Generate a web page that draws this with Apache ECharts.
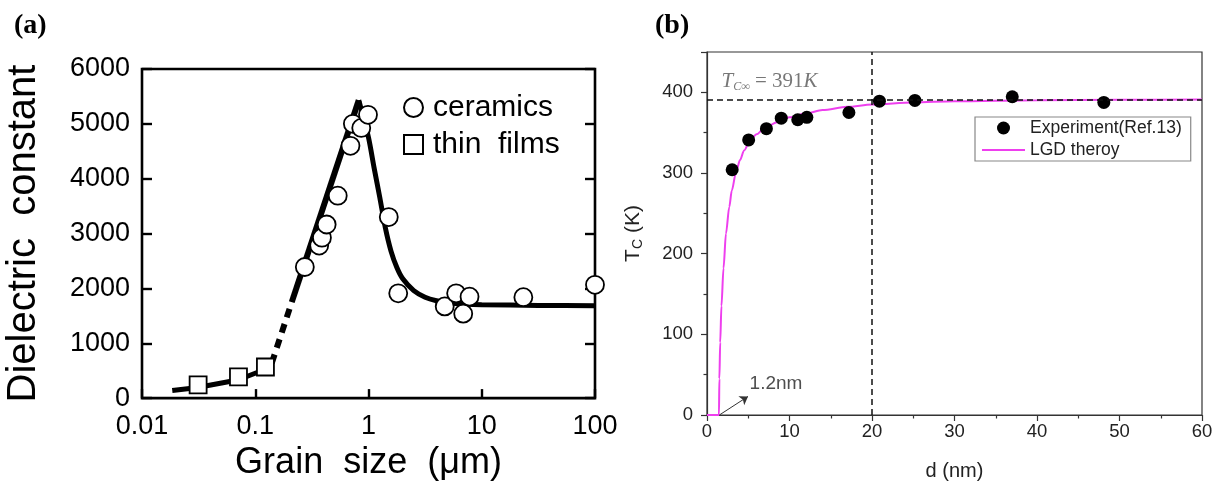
<!DOCTYPE html>
<html><head><meta charset="utf-8">
<script src="https://cdn.jsdelivr.net/npm/echarts@6/dist/echarts.min.js"></script>
<style>html,body{margin:0;padding:0;background:#fff}#c{width:1216px;height:486px}</style>
</head><body><div id="c"></div>
<script>
// ---------- Panel (a) data: grain size (µm) vs dielectric constant ----------
const ceramics = [[0.274,2390],[0.367,2780],[0.388,2925],[0.427,3165],[0.535,3690],[0.693,4600],[0.728,5000],[0.863,4925],[0.99,5165],[1.51,3300],[1.83,1910],[4.71,1672],[5.94,1910],[6.86,1540],[7.8,1850],[23.3,1840],[100,2066]];
const thinFilms = [[0.0313,240],[0.0711,388],[0.123,567]];
const fitFilms = [[0.0185,140],[0.03,190],[0.07,330],[0.125,530]];
const fitDashed = [[0.14,640],[0.21,1750]];
const fitRise = [[0.21,1750],[0.82,5430]];
const fitFall = [[0.82,5430],[1.0,4750],[1.12,4200],[1.26,3650],[1.41,3100],[1.58,2680],[1.78,2380],[2.0,2180],[2.51,1960],[3.16,1840],[3.98,1775],[5.01,1740],[7.08,1715],[10,1703],[31.6,1690],[100,1684]];
const xTicksA = ['0.01','0.1','1','10','100'];
const yTicksA = ['0','1000','2000','3000','4000','5000','6000'];

// ---------- Panel (b) data: d (nm) vs Tc (K) ----------
const experiment = [[3.05,304],[5.05,341],[7.2,355],[9.0,368],[11.0,366],[12.1,369],[17.2,375],[20.9,389],[25.2,390],[37.0,394.5],[48.1,387.5]];
const lgdTheory = [[0,0],[1.45,0],[1.5,45],[1.6,90],[1.75,135],[2.0,182],[2.3,225],[2.7,258],[3.0,278],[3.5,300],[4.0,316],[4.5,328],[5.2,340],[6.0,348],[7.0,356],[8.5,363],[10,369],[12,374],[14,378],[17,382],[20,385],[25,387.5],[30,389],[40,390.3],[50,390.8],[60,391]];
const xTicksB = ['0','10','20','30','40','50','60'];
const yTicksB = ['0','100','200','300','400'];
const tcInf = 391;
const dLine = 20;
const critSize = 1.2;
const annotPos = [1.7, 414];
const critLabelPos = [5.1, 39];
const arrowFrom = [1.5, 0];
const arrowTo = [4.97, 23];

const SANS = '"Liberation Sans", Arial, sans-serif';
const SERIF = '"Liberation Serif", "Times New Roman", serif';

const chart = echarts.init(document.getElementById('c'), null, {renderer:'canvas'});
const blackLine = (w, type) => ({color:'#000', width:w, type:type || 'solid'});

chart.setOption({
  animation:false,
  backgroundColor:'#fff',
  graphic:[
    {type:'text', left:14, top:12, style:{text:'(a)', font:'bold 28px ' + SERIF, fill:'#000'}},
    {type:'text', left:655, top:12, style:{text:'(b)', font:'bold 28px ' + SERIF, fill:'#000'}}
  ],
  grid:[
    {left:142, top:69, width:453, height:333, show:true, borderColor:'#000', borderWidth:2.6, backgroundColor:'transparent'},
    {left:707, top:52, width:495, height:366, show:true, borderColor:'#333', borderWidth:1.2, backgroundColor:'transparent'}
  ],
  legend:[
    {data:['ceramics','thin  films'], orient:'vertical', left:398, top:86, itemWidth:19, itemHeight:19, itemGap:4,
     textStyle:{fontFamily:SANS, fontSize:30, color:'#000', lineHeight:33, padding:[0,0,0,5]}},
    {data:['Experiment(Ref.13)', {name:'LGD theroy', icon:'path://M0,0 L43,0 L43,2.2 L0,2.2 Z'}],
     orient:'vertical', left:975, top:117, itemWidth:43, itemHeight:13, itemGap:2,
     padding:[1,9,1,7], borderColor:'#888', borderWidth:1.2, backgroundColor:'#fff',
     textStyle:{fontFamily:SANS, fontSize:17.5, color:'#222', lineHeight:20}}
  ],
  xAxis:[
    {gridIndex:0, type:'log', logBase:10, min:0.01, max:100,
     axisLine:{show:false},
     axisTick:{inside:true, length:9, lineStyle:{color:'#000', width:2.4}},
     axisLabel:{fontFamily:SANS, fontSize:27, color:'#000', margin:15,
       formatter:v => xTicksA[Math.round(Math.log10(v)) + 2]},
     splitLine:{show:false},
     name:'Grain  size  (μm)', nameLocation:'middle', nameGap:45,
     nameTextStyle:{fontFamily:SANS, fontSize:36, color:'#000'}},
    {gridIndex:1, type:'value', min:0, max:60, interval:10,
     axisLine:{lineStyle:{color:'#333', width:1.2}},
     axisTick:{length:6, lineStyle:{color:'#333', width:1.2}},
     minorTick:{show:true, splitNumber:2, length:3.5, lineStyle:{color:'#333', width:1.2}},
     axisLabel:{fontFamily:SANS, fontSize:18.5, color:'#222', margin:7,
       formatter:v => xTicksB[Math.round(v/10)]},
     splitLine:{show:false},
     name:'d (nm)', nameLocation:'middle', nameGap:46,
     nameTextStyle:{fontFamily:SANS, fontSize:20, color:'#222'}}
  ],
  yAxis:[
    {gridIndex:0, type:'value', min:0, max:6000, interval:1000,
     axisLine:{show:false},
     axisTick:{inside:true, length:10, lineStyle:{color:'#000', width:2.4}},
     axisLabel:{fontFamily:SANS, fontSize:27, color:'#000', margin:12,
       formatter:v => yTicksA[Math.round(v/1000)]},
     splitLine:{show:false},
     name:'Dielectric  constant', nameLocation:'middle', nameRotate:90, nameGap:98,
     nameTextStyle:{fontFamily:SANS, fontSize:40, color:'#000'}},
    {gridIndex:0, type:'value', position:'right', min:0, max:6000, interval:1000,
     axisLine:{show:false},
     axisTick:{inside:true, length:10, lineStyle:{color:'#000', width:2.4}},
     axisLabel:{show:false}, splitLine:{show:false}},
    {gridIndex:1, type:'value', min:0, max:450, interval:100,
     axisLine:{lineStyle:{color:'#333', width:1.2}},
     axisTick:{length:6, lineStyle:{color:'#333', width:1.2}},
     minorTick:{show:true, splitNumber:2, length:3.5, lineStyle:{color:'#333', width:1.2}},
     axisLabel:{fontFamily:SANS, fontSize:18.5, color:'#222', margin:14, showMaxLabel:false,
       formatter:v => (v % 100 === 0 ? yTicksB[v/100] : '')},
     splitLine:{show:false},
     name:'{a|T}{s|C}{a| (K)}', nameLocation:'middle', nameRotate:90, nameGap:62,
     nameTextStyle:{rich:{
       a:{fontFamily:SANS, fontSize:21, color:'#222', lineHeight:24},
       s:{fontFamily:SANS, fontSize:14, color:'#222', lineHeight:14, padding:[10,0,0,0]}
     }}}
  ],
  series:[
    // ----- panel (a) -----
    {name:'fitFilms', type:'line', xAxisIndex:0, yAxisIndex:0, data:fitFilms, symbol:'none', showSymbol:false, lineStyle:blackLine(5), z:2, silent:true},
    {name:'fitDashed', type:'line', xAxisIndex:0, yAxisIndex:0, data:fitDashed, symbol:'none', showSymbol:false, lineStyle:blackLine(6, [9,7]), z:2, silent:true},
    {name:'fitRise', type:'line', xAxisIndex:0, yAxisIndex:0, data:fitRise, symbol:'none', showSymbol:false, lineStyle:blackLine(6), z:2, silent:true},
    {name:'fitFall', type:'line', xAxisIndex:0, yAxisIndex:0, data:fitFall, symbol:'none', showSymbol:false, smooth:0.25, lineStyle:blackLine(5), z:2, silent:true},
    {name:'ceramics', type:'scatter', xAxisIndex:0, yAxisIndex:0, data:ceramics, symbol:'circle', symbolSize:18,
     itemStyle:{color:'#fff', borderColor:'#000', borderWidth:1.8, opacity:1}, z:5},
    {name:'thin  films', type:'scatter', xAxisIndex:0, yAxisIndex:0, data:thinFilms, symbol:'rect', symbolSize:17,
     itemStyle:{color:'#fff', borderColor:'#000', borderWidth:1.8, opacity:1}, z:5},
    // ----- panel (b) -----
    {name:'Experiment(Ref.13)', type:'scatter', xAxisIndex:1, yAxisIndex:2, data:experiment, symbol:'circle', symbolSize:13,
     itemStyle:{color:'#000', opacity:1}, z:4,
     markLine:{silent:true, symbol:'none', label:{show:false}, animation:false,
       lineStyle:{color:'#111', type:[6,4], width:1.5},
       data:[{yAxis:tcInf},{xAxis:dLine}]}},
    {name:'LGD theroy', type:'line', xAxisIndex:1, yAxisIndex:2, data:lgdTheory, symbol:'none', showSymbol:false,
     smooth:0.3, smoothMonotone:'x', lineStyle:{color:'#ee3fee', width:2}, itemStyle:{color:'#ee3fee'}, z:3},
    {name:'annot', type:'scatter', xAxisIndex:1, yAxisIndex:2, silent:true, symbolSize:1, itemStyle:{color:'rgba(0,0,0,0)'},
     data:[{value:annotPos, label:{formatter:'{t|T}{s|C∞}{e| = ' + tcInf + '}{t|K}'}},
           {value:critLabelPos, label:{formatter:'{n|' + critSize + 'nm}'}}],
     label:{show:true, position:'right', distance:0,
       rich:{
         t:{fontFamily:SERIF, fontStyle:'italic', fontSize:21, color:'#555', lineHeight:24},
         s:{fontFamily:SERIF, fontStyle:'italic', fontSize:12, color:'#555', lineHeight:12, padding:[11,0,0,0]},
         e:{fontFamily:SERIF, fontSize:21, color:'#555', lineHeight:24},
         n:{fontFamily:SANS, fontSize:19, color:'#222'}
       }},
     markLine:{silent:true, symbol:['none','arrow'], symbolSize:8, label:{show:false}, animation:false,
       lineStyle:{color:'#333', width:1, type:'solid'},
       data:[[{coord:arrowFrom},{coord:arrowTo}]]}}
  ]
});
</script>
</body></html>
